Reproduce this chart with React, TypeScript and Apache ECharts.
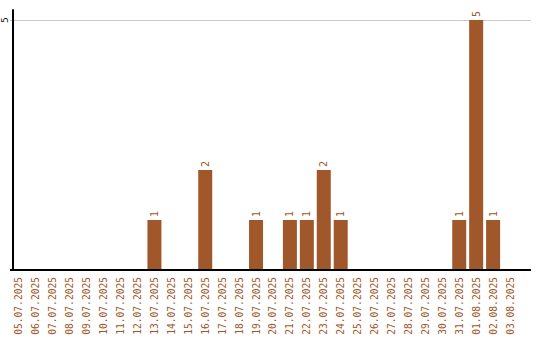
import React, { useEffect, useRef } from "react";
import * as echarts from "echarts";

const dates = [
  "05.07.2025", "06.07.2025", "07.07.2025", "08.07.2025", "09.07.2025",
  "10.07.2025", "11.07.2025", "12.07.2025", "13.07.2025", "14.07.2025",
  "15.07.2025", "16.07.2025", "17.07.2025", "18.07.2025", "19.07.2025",
  "20.07.2025", "21.07.2025", "22.07.2025", "23.07.2025", "24.07.2025",
  "25.07.2025", "26.07.2025", "27.07.2025", "28.07.2025", "29.07.2025",
  "30.07.2025", "31.07.2025", "01.08.2025", "02.08.2025", "03.08.2025",
];

const counts = [
  0, 0, 0, 0, 0,
  0, 0, 0, 1, 0,
  0, 2, 0, 0, 1,
  0, 1, 1, 2, 1,
  0, 0, 0, 0, 0,
  0, 1, 5, 1, 0,
];

const yTicks = [5];

const BROWN = "#a0572a";
const MONO = "'DejaVu Sans Mono', monospace";

// horizontal extent of the frame lines (y axis to right edge)
const FRAME_LEFT = 10;
const FRAME_RIGHT = 531;

export default function App() {
  const ref = useRef<HTMLDivElement>(null);

  useEffect(() => {
    if (!ref.current) return;
    const chart = echarts.init(ref.current, null, { renderer: "svg" });
    chart.setOption({
      animation: false,
      grid: { left: 8.5, top: 10, width: 510, height: 260, containLabel: false },
      xAxis: {
        type: "category",
        data: dates,
        boundaryGap: true,
        axisLine: { show: false },
        axisTick: { show: false },
        axisLabel: {
          interval: 0,
          rotate: 90,
          margin: 7,
          color: BROWN,
          fontFamily: MONO,
          fontSize: 9.6,
        },
      },
      yAxis: {
        type: "value",
        min: 0,
        max: 5.2,
        interval: 5,
        offset: -2.5,
        axisLine: { show: true, lineStyle: { color: "#000", width: 2 } },
        axisTick: { show: false },
        axisLabel: {
          rotate: 90,
          margin: 4,
          color: "#000",
          fontFamily: MONO,
          fontSize: 9,
          showMaxLabel: false,
          formatter: (v: number) => (yTicks.includes(v) ? String(v) : ""),
        },
        splitLine: { show: false },
      },
      series: [
        {
          type: "bar",
          data: counts.map((v) => (v > 0 ? v : null)),
          barWidth: 14,
          itemStyle: { color: BROWN },
          z: 3,
          label: {
            show: true,
            position: "top",
            rotate: 90,
            distance: 3,
            align: "left",
            verticalAlign: "middle",
            color: BROWN,
            fontFamily: MONO,
            fontSize: 10,
          },
        },
      ],
    });

    // grid lines and the baseline run the full frame width, placed via the value axis
    const gridLines = yTicks.map((t) => {
      const y = Math.round(chart.convertToPixel({ yAxisIndex: 0 }, t) as number) + 0.5;
      return {
        type: "line",
        shape: { x1: FRAME_LEFT, y1: y, x2: FRAME_RIGHT, y2: y },
        style: { stroke: "#cccccc", lineWidth: 1 },
        z: 0,
      };
    });
    const y0 = chart.convertToPixel({ yAxisIndex: 0 }, 0) as number;
    chart.setOption({
      graphic: [
        ...gridLines,
        {
          type: "line",
          shape: { x1: FRAME_LEFT, y1: y0, x2: FRAME_RIGHT, y2: y0 },
          style: { stroke: "#000", lineWidth: 2 },
          z: 10,
        },
      ],
    });
    return () => chart.dispose();
  }, []);

  return (
    <div
      ref={ref}
      style={{ position: "fixed", left: 0, top: 0, width: 540, height: 340, background: "#fff" }}
    />
  );
}
